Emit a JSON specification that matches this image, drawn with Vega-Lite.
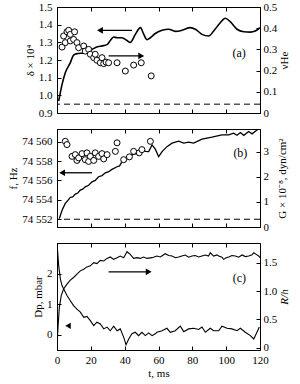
{
  "$schema": "https://vega.github.io/schema/vega-lite/v6.json",
  "padding": {"left": 7, "top": 0, "right": 2, "bottom": 2},
  "bounds": "flush",
  "spacing": 16,
  "datasets": {
    "aLine": [
      {"t":1.0,"v":0.968},{"t":3.0,"v":1.062},{"t":4.9,"v":1.128},{"t":7.9,"v":1.185},{"t":9.8,"v":1.228},{"t":11.8,"v":1.236},{"t":16,"v":1.24},{"t":20.7,"v":1.26},{"t":24,"v":1.275},{"t":26.6,"v":1.28},{"t":29.6,"v":1.287},{"t":31.5,"v":1.31},{"t":33.5,"v":1.33},{"t":35.5,"v":1.326},{"t":38.4,"v":1.326},{"t":41.4,"v":1.31},{"t":43.3,"v":1.30},{"t":46.3,"v":1.345},{"t":49.3,"v":1.383},{"t":51.3,"v":1.345},{"t":53.2,"v":1.315},{"t":55.2,"v":1.326},{"t":58.1,"v":1.35},{"t":62.1,"v":1.368},{"t":66.0,"v":1.374},{"t":70.0,"v":1.362},{"t":73.9,"v":1.368},{"t":78.8,"v":1.383},{"t":81.8,"v":1.374},{"t":85.7,"v":1.345},{"t":89.7,"v":1.336},{"t":92.6,"v":1.364},{"t":96.5,"v":1.411},{"t":99.5,"v":1.436},{"t":102.4,"v":1.417},{"t":106.4,"v":1.374},{"t":110.4,"v":1.36},{"t":114.3,"v":1.358},{"t":117.2,"v":1.364},{"t":120,"v":1.383}
    ],
    "aPts": [
      {"t":3,"v":0.311},{"t":3.9,"v":0.363},{"t":4.9,"v":0.332},{"t":5.9,"v":0.383},{"t":6.9,"v":0.39},{"t":7.9,"v":0.371},{"t":7.9,"v":0.34},{"t":9.8,"v":0.347},{"t":10.4,"v":0.383},{"t":11.8,"v":0.332},{"t":12.8,"v":0.308},{"t":15.8,"v":0.316},{"t":16.7,"v":0.292},{"t":18.7,"v":0.30},{"t":19.7,"v":0.277},{"t":21.7,"v":0.261},{"t":22.6,"v":0.277},{"t":23.6,"v":0.249},{"t":25.6,"v":0.237},{"t":26.6,"v":0.261},{"t":27.6,"v":0.233},{"t":29,"v":0.24},{"t":30.5,"v":0.237},{"t":35.5,"v":0.237},{"t":40.4,"v":0.198},{"t":45.3,"v":0.226},{"t":49.8,"v":0.237},{"t":55.7,"v":0.175}
    ],
    "aDash": [{"v":0.95}],
    "aArrows": [{"t1":25.4,"t2":44.3,"v":1.368,"head":"left"},{"t1":30.5,"t2":49.8,"v":1.223,"head":"right"}],
    "aLabel": [{"t":107.7,"v":1.241,"label":"(a)"}],
    "bLine": [
      {"t":1.4,"v":74552.07},{"t":3.0,"v":74552.93},{"t":4.9,"v":74553.63},{"t":6.2,"v":74553.9},{"t":7.9,"v":74554.25},{"t":9.3,"v":74554.3},{"t":10.8,"v":74554.59},{"t":12.3,"v":74554.7},{"t":13.8,"v":74555.0},{"t":15.2,"v":74555.1},{"t":16.7,"v":74555.34},{"t":18.7,"v":74555.5},{"t":20.7,"v":74555.86},{"t":22.6,"v":74556.0},{"t":24.6,"v":74556.38},{"t":26.6,"v":74556.5},{"t":28.6,"v":74556.79},{"t":30.5,"v":74556.9},{"t":32.5,"v":74557.14},{"t":35.5,"v":74557.41},{"t":37,"v":74557.5},{"t":38.4,"v":74557.93},{"t":41.4,"v":74558.28},{"t":44.3,"v":74558.63},{"t":47.3,"v":74558.8},{"t":50.2,"v":74559.22},{"t":52.2,"v":74559.0},{"t":54.2,"v":74558.97},{"t":56.2,"v":74559.66},{"t":58.1,"v":74559.22},{"t":60.1,"v":74558.45},{"t":62.1,"v":74558.97},{"t":65.0,"v":74559.48},{"t":68.0,"v":74559.84},{"t":70,"v":74559.95},{"t":71.9,"v":74560.05},{"t":74.9,"v":74559.84},{"t":77.8,"v":74559.95},{"t":80.8,"v":74559.84},{"t":85.7,"v":74560.25},{"t":91.6,"v":74560.46},{"t":97.5,"v":74560.70},{"t":101.5,"v":74560.70},{"t":104.4,"v":74560.87},{"t":106.4,"v":74560.65},{"t":108.4,"v":74560.93},{"t":110.4,"v":74560.65},{"t":113.3,"v":74561.04},{"t":115.3,"v":74560.8},{"t":118.2,"v":74561.2},{"t":119.6,"v":74561.3}
    ],
    "bPts": [
      {"t":4.9,"v":3.41},{"t":5.9,"v":3.28},{"t":8.9,"v":2.81},{"t":10.8,"v":2.88},{"t":11.8,"v":2.65},{"t":12.8,"v":2.75},{"t":14.8,"v":2.92},{"t":16.7,"v":2.68},{"t":17.7,"v":2.95},{"t":18.7,"v":2.61},{"t":19.7,"v":2.81},{"t":21.7,"v":2.65},{"t":22.6,"v":2.95},{"t":24.6,"v":2.81},{"t":26.6,"v":2.92},{"t":27.6,"v":2.71},{"t":29.6,"v":2.88},{"t":34.5,"v":3.01},{"t":35.5,"v":3.35},{"t":39.4,"v":2.68},{"t":42.8,"v":2.79},{"t":45.3,"v":3.01},{"t":48.6,"v":2.95},{"t":50.2,"v":3.08},{"t":55.2,"v":3.41}
    ],
    "bDash": [{"v":74552}],
    "bArrows": [{"t1":3.0,"t2":20.7,"v":74556.79,"head":"left"}],
    "bLabel": [{"t":108.4,"v":74558.8,"label":"(b)"}],
    "cD": [
      {"t":0,"v":3.0},{"t":1.0,"v":2.26},{"t":2.0,"v":1.82},{"t":3.0,"v":1.60},{"t":3.9,"v":1.50},{"t":5.9,"v":1.28},{"t":7.9,"v":1.11},{"t":9.8,"v":0.95},{"t":11.8,"v":0.84},{"t":13.8,"v":0.74},{"t":15.8,"v":0.57},{"t":17.7,"v":0.60},{"t":19.7,"v":0.46},{"t":21.7,"v":0.30},{"t":23.6,"v":0.41},{"t":25.6,"v":0.35},{"t":27.6,"v":0.19},{"t":29.6,"v":0.25},{"t":31.5,"v":0.13},{"t":33.5,"v":0.28},{"t":35.5,"v":0.13},{"t":37.4,"v":0.19},{"t":39.4,"v":-0.08},{"t":40.8,"v":-0.33},{"t":42.4,"v":-0.14},{"t":44.3,"v":0.03},{"t":46.3,"v":0.08},{"t":48.2,"v":-0.03},{"t":50.2,"v":0.08},{"t":52.2,"v":-0.03},{"t":54.2,"v":0.06},{"t":56.2,"v":-0.03},{"t":58.1,"v":0.03},{"t":59.1,"v":0.08},{"t":62.1,"v":0.13},{"t":65.0,"v":0.21},{"t":67.0,"v":0.08},{"t":69.9,"v":0.13},{"t":72.9,"v":0.28},{"t":74.9,"v":0.10},{"t":77.8,"v":0.19},{"t":80.8,"v":0.21},{"t":83.7,"v":0.17},{"t":85.7,"v":0.25},{"t":87.7,"v":0.08},{"t":90.6,"v":0.21},{"t":92.6,"v":0.13},{"t":95.6,"v":0.13},{"t":97.5,"v":0.28},{"t":100.5,"v":0.21},{"t":103.4,"v":0.19},{"t":106.4,"v":0.13},{"t":108.4,"v":0.21},{"t":111.3,"v":0.08},{"t":114.3,"v":-0.03},{"t":116.3,"v":-0.14},{"t":118.2,"v":0.08},{"t":119.6,"v":0.25}
    ],
    "cR": [
      {"t":0,"v":0.017},{"t":0.6,"v":0.367},{"t":1.4,"v":0.717},{"t":2.5,"v":0.921},{"t":3.9,"v":1.037},{"t":5.9,"v":1.124},{"t":7.9,"v":1.194},{"t":9.8,"v":1.241},{"t":11.8,"v":1.299},{"t":13.8,"v":1.358},{"t":15.8,"v":1.386},{"t":17.7,"v":1.428},{"t":19.7,"v":1.446},{"t":21.7,"v":1.503},{"t":23.6,"v":1.486},{"t":25.6,"v":1.543},{"t":27.6,"v":1.533},{"t":29.6,"v":1.578},{"t":31.5,"v":1.603},{"t":33.5,"v":1.561},{"t":35.5,"v":1.591},{"t":37.4,"v":1.620},{"t":39.4,"v":1.591},{"t":41.4,"v":1.696},{"t":43.3,"v":1.648},{"t":45.3,"v":1.578},{"t":47.3,"v":1.591},{"t":49.2,"v":1.578},{"t":51.2,"v":1.603},{"t":53.2,"v":1.578},{"t":56.2,"v":1.591},{"t":59.1,"v":1.620},{"t":61.1,"v":1.603},{"t":64,"v":1.661},{"t":66,"v":1.63},{"t":68,"v":1.62},{"t":70,"v":1.59},{"t":71.9,"v":1.603},{"t":73.8,"v":1.62},{"t":75.8,"v":1.638},{"t":77.8,"v":1.60},{"t":79.8,"v":1.62},{"t":81.7,"v":1.63},{"t":83.7,"v":1.603},{"t":85.7,"v":1.62},{"t":87.7,"v":1.638},{"t":89.6,"v":1.62},{"t":90.6,"v":1.678},{"t":92.6,"v":1.62},{"t":94.6,"v":1.64},{"t":95.6,"v":1.62},{"t":97.5,"v":1.60},{"t":98.5,"v":1.561},{"t":100,"v":1.59},{"t":101.5,"v":1.603},{"t":103.4,"v":1.63},{"t":105.4,"v":1.62},{"t":107.4,"v":1.60},{"t":109.4,"v":1.638},{"t":111.3,"v":1.61},{"t":113.3,"v":1.62},{"t":115.3,"v":1.64},{"t":116.3,"v":1.678},{"t":118.2,"v":1.64},{"t":119.2,"v":1.62},{"t":120,"v":1.591}
    ],
    "cArrowsL": [{"t":6.5,"v":0.29}],
    "cArrowsR": [{"t1":30.5,"t2":54.2,"v":1.34,"head":"right"}],
    "cLabel": [{"t":107.8,"v":1.24,"label":"(c)"}]
  },
  "vconcat": [
    {
      "width": 203, "height": 106,
      "resolve": {"scale": {"y": "independent"}, "axis": {"x": "independent", "y": "independent"}},
      "layer": [
        {
          "data": {"name": "aLine"},
          "mark": {"type": "line", "color": "black", "strokeWidth": 1.6, "interpolate": "monotone", "clip": true},
          "encoding": {
            "x": {"field": "t", "type": "quantitative", "scale": {"domain": [0, 120]}, "axis": {"orient": "bottom", "values": [0,20,40,60,80,100,120], "labels": false, "title": null}},
            "y": {"field": "v", "type": "quantitative", "scale": {"domain": [0.9, 1.5], "nice": false, "zero": false}, "axis": {"orient": "left", "values": [0.9,1.0,1.1,1.2,1.3,1.4,1.5], "format": ".1f", "title": "δ × 10⁴"}}
          }
        },
        {
          "data": {"name": "aDash"},
          "mark": {"type": "rule", "color": "black", "strokeDash": [6, 4], "strokeWidth": 1},
          "encoding": {"y": {"field": "v", "type": "quantitative", "scale": {"domain": [0.9, 1.5], "nice": false, "zero": false}, "axis": null}}
        },
        {
          "data": {"name": "aArrows"},
          "mark": {"type": "rule", "color": "black", "strokeWidth": 1.3},
          "encoding": {
            "x": {"field": "t1", "type": "quantitative", "axis": null},
            "x2": {"field": "t2"},
            "y": {"field": "v", "type": "quantitative", "scale": {"domain": [0.9, 1.5], "nice": false, "zero": false}, "axis": null}
          }
        },
        {
          "data": {"name": "aArrows"},
          "transform": [{"filter": "datum.head === 'left'"}],
          "mark": {"type": "point", "shape": "triangle-left", "filled": true, "color": "black", "size": 45, "opacity": 1},
          "encoding": {
            "x": {"field": "t1", "type": "quantitative", "axis": null},
            "y": {"field": "v", "type": "quantitative", "scale": {"domain": [0.9, 1.5], "nice": false, "zero": false}, "axis": null}
          }
        },
        {
          "data": {"name": "aArrows"},
          "transform": [{"filter": "datum.head === 'right'"}],
          "mark": {"type": "point", "shape": "triangle-right", "filled": true, "color": "black", "size": 45, "opacity": 1},
          "encoding": {
            "x": {"field": "t2", "type": "quantitative", "axis": null},
            "y": {"field": "v", "type": "quantitative", "scale": {"domain": [0.9, 1.5], "nice": false, "zero": false}, "axis": null}
          }
        },
        {
          "data": {"name": "aLabel"},
          "mark": {"type": "text", "font": "Liberation Serif", "fontSize": 12, "color": "black"},
          "encoding": {
            "x": {"field": "t", "type": "quantitative", "axis": null},
            "y": {"field": "v", "type": "quantitative", "scale": {"domain": [0.9, 1.5], "nice": false, "zero": false}, "axis": null},
            "text": {"field": "label"}
          }
        },
        {
          "data": {"name": "aPts"},
          "mark": {"type": "point", "shape": "circle", "filled": false, "stroke": "black", "fill": "white", "fillOpacity": 1, "strokeWidth": 1, "size": 36, "opacity": 1},
          "encoding": {
            "x": {"field": "t", "type": "quantitative", "axis": {"orient": "top", "values": [0,20,40,60,80,100,120], "labels": false, "title": null}},
            "y": {"field": "v", "type": "quantitative", "scale": {"domain": [0, 0.5], "nice": false}, "axis": {"orient": "right", "values": [0,0.1,0.2,0.3,0.4,0.5], "labelExpr": "datum.value == 0 ? '0' : format(datum.value, '.1f')", "title": "νHe", "titleAngle": 270, "titleBaseline": "top", "titlePadding": 2}}
          }
        }
      ]
    },
    {
      "width": 203, "height": 98,
      "resolve": {"scale": {"y": "independent"}, "axis": {"x": "independent", "y": "independent"}},
      "layer": [
        {
          "data": {"name": "bLine"},
          "mark": {"type": "line", "color": "black", "strokeWidth": 1.3, "clip": true},
          "encoding": {
            "x": {"field": "t", "type": "quantitative", "scale": {"domain": [0, 120]}, "axis": {"orient": "bottom", "values": [0,20,40,60,80,100,120], "labels": false, "title": null}},
            "y": {"field": "v", "type": "quantitative", "scale": {"domain": [74551.2, 74561.3], "zero": false, "nice": false}, "axis": {"orient": "left", "values": [74552,74554,74556,74558,74560], "labelExpr": "'74 ' + format(datum.value - 74000, '03d')", "title": "f, Hz"}}
          }
        },
        {
          "data": {"name": "bDash"},
          "mark": {"type": "rule", "color": "black", "strokeDash": [6, 4], "strokeWidth": 1},
          "encoding": {"y": {"field": "v", "type": "quantitative", "scale": {"domain": [74551.2, 74561.3], "zero": false, "nice": false}, "axis": null}}
        },
        {
          "data": {"name": "bArrows"},
          "mark": {"type": "rule", "color": "black", "strokeWidth": 1.3},
          "encoding": {
            "x": {"field": "t1", "type": "quantitative", "axis": null},
            "x2": {"field": "t2"},
            "y": {"field": "v", "type": "quantitative", "scale": {"domain": [74551.2, 74561.3], "zero": false, "nice": false}, "axis": null}
          }
        },
        {
          "data": {"name": "bArrows"},
          "mark": {"type": "point", "shape": "triangle-left", "filled": true, "color": "black", "size": 45, "opacity": 1},
          "encoding": {
            "x": {"field": "t1", "type": "quantitative", "axis": null},
            "y": {"field": "v", "type": "quantitative", "scale": {"domain": [74551.2, 74561.3], "zero": false, "nice": false}, "axis": null}
          }
        },
        {
          "data": {"name": "bLabel"},
          "mark": {"type": "text", "font": "Liberation Serif", "fontSize": 12, "color": "black"},
          "encoding": {
            "x": {"field": "t", "type": "quantitative", "axis": null},
            "y": {"field": "v", "type": "quantitative", "scale": {"domain": [74551.2, 74561.3], "zero": false, "nice": false}, "axis": null},
            "text": {"field": "label"}
          }
        },
        {
          "data": {"name": "bPts"},
          "mark": {"type": "point", "shape": "circle", "filled": false, "stroke": "black", "fill": "white", "fillOpacity": 1, "strokeWidth": 1, "size": 36, "opacity": 1},
          "encoding": {
            "x": {"field": "t", "type": "quantitative", "axis": {"orient": "top", "values": [0,20,40,60,80,100,120], "labels": false, "title": null}},
            "y": {"field": "v", "type": "quantitative", "scale": {"domain": [0, 3.9], "nice": false}, "axis": {"orient": "right", "values": [0,1,2,3], "format": "d", "title": "G × 10⁻⁸, dyn/cm²", "titleAngle": 270, "titleBaseline": "top", "titlePadding": 8}}
          }
        }
      ]
    },
    {
      "width": 203, "height": 107,
      "resolve": {"scale": {"y": "independent"}, "axis": {"x": "independent", "y": "independent"}},
      "layer": [
        {
          "data": {"name": "cD"},
          "mark": {"type": "line", "color": "black", "strokeWidth": 1.1, "clip": true},
          "encoding": {
            "x": {"field": "t", "type": "quantitative", "scale": {"domain": [0, 120]}, "axis": {"orient": "bottom", "values": [0,20,40,60,80,100,120], "title": "t, ms"}},
            "y": {"field": "v", "type": "quantitative", "scale": {"domain": [-0.5, 3], "nice": false}, "axis": {"orient": "left", "values": [0,1,2], "format": "d", "title": "Dp, mbar"}}
          }
        },
        {
          "data": {"name": "cArrowsL"},
          "mark": {"type": "point", "shape": "triangle-left", "filled": true, "color": "black", "size": 40, "opacity": 1},
          "encoding": {
            "x": {"field": "t", "type": "quantitative", "axis": null},
            "y": {"field": "v", "type": "quantitative", "scale": {"domain": [-0.5, 3], "nice": false}, "axis": null}
          }
        },
        {
          "data": {"name": "cR"},
          "mark": {"type": "line", "color": "black", "strokeWidth": 1.1, "clip": true},
          "encoding": {
            "x": {"field": "t", "type": "quantitative", "axis": {"orient": "top", "values": [0,20,40,60,80,100,120], "labels": false, "title": null}},
            "y": {"field": "v", "type": "quantitative", "scale": {"domain": [-0.04, 1.85], "nice": false, "zero": false}, "axis": {"orient": "right", "values": [0,0.5,1.0,1.5], "labelExpr": "datum.value == 0 ? '0' : format(datum.value, '.1f')", "title": "R/h", "titleFontStyle": "italic", "titleAngle": 270, "titleBaseline": "top", "titlePadding": 2}}
          }
        },
        {
          "data": {"name": "cArrowsR"},
          "mark": {"type": "rule", "color": "black", "strokeWidth": 1.3},
          "encoding": {
            "x": {"field": "t1", "type": "quantitative", "axis": null},
            "x2": {"field": "t2"},
            "y": {"field": "v", "type": "quantitative", "scale": {"domain": [-0.04, 1.85], "nice": false, "zero": false}, "axis": null}
          }
        },
        {
          "data": {"name": "cArrowsR"},
          "mark": {"type": "point", "shape": "triangle-right", "filled": true, "color": "black", "size": 45, "opacity": 1},
          "encoding": {
            "x": {"field": "t2", "type": "quantitative", "axis": null},
            "y": {"field": "v", "type": "quantitative", "scale": {"domain": [-0.04, 1.85], "nice": false, "zero": false}, "axis": null}
          }
        },
        {
          "data": {"name": "cLabel"},
          "mark": {"type": "text", "font": "Liberation Serif", "fontSize": 12, "color": "black"},
          "encoding": {
            "x": {"field": "t", "type": "quantitative", "axis": null},
            "y": {"field": "v", "type": "quantitative", "scale": {"domain": [-0.04, 1.85], "nice": false, "zero": false}, "axis": null},
            "text": {"field": "label"}
          }
        }
      ]
    }
  ],
  "config": {
    "font": "Liberation Serif",
    "view": {"stroke": "black", "strokeWidth": 1},
    "axis": {
      "grid": false, "domain": false, "tickSize": -4, "tickColor": "black", "tickWidth": 1,
      "labelFont": "Liberation Serif", "labelFontSize": 11, "labelColor": "black",
      "titleFont": "Liberation Serif", "titleFontSize": 11, "titleFontWeight": "normal", "titleColor": "black",
      "labelFlush": false, "labelOverlap": false
    },
    "axisLeft": {"labelPadding": 9, "titlePadding": 3},
    "axisRight": {"labelPadding": 7},
    "axisBottom": {"labelPadding": 8, "titlePadding": 2},
    "axisTop": {"labelPadding": 7}
  }
}
